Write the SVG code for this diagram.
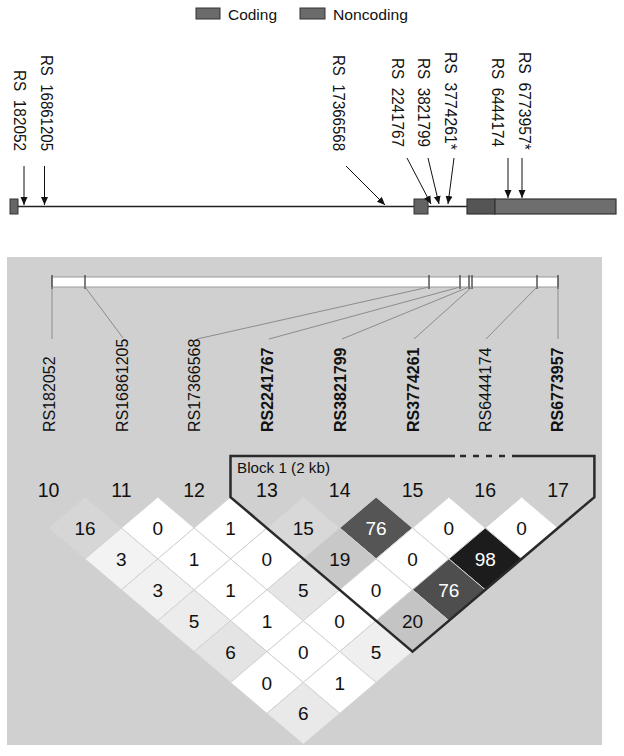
<svg xmlns="http://www.w3.org/2000/svg" xmlns:xlink="http://www.w3.org/1999/xlink" width="624" height="756" viewBox="0 0 624 756">
<style>
text{font-family:"Liberation Sans",Arial,sans-serif;fill:#111}
.lg{font-size:15.5px}
.rs{font-size:16.5px}
.ld{font-size:16px}
.b{font-weight:bold}
.num{font-size:19.5px;text-anchor:middle}
.v{font-size:19px;text-anchor:middle}
.w{fill:#fff}
.arr{stroke:#111;stroke-width:1;fill:none}
.con{stroke:#8c8c8c;stroke-width:1;fill:none}
.tick{stroke:#555;stroke-width:1.5}
.dm{stroke:#d2d2d2;stroke-width:1}
.blk{stroke:#2a2a2a;stroke-width:2.5;fill:none;stroke-linejoin:miter}
</style>
<defs>
<marker id="ah" markerUnits="userSpaceOnUse" markerWidth="9" markerHeight="8" refX="8" refY="3.5" orient="auto">
<path d="M0,0 L8,3.5 L0,7 Z" fill="#111"/>
</marker>
<path id="dm" d="M0,-30.9 L36.4,0 L0,30.9 L-36.4,0 Z"/>
</defs>

<g id="legend">
<rect x="196" y="8" width="24" height="11" fill="#6b6b6b" stroke="#333" stroke-width="1"/>
<text class="lg" x="228" y="19.5" textLength="49" lengthAdjust="spacingAndGlyphs">Coding</text>
<rect x="300" y="8" width="25" height="11" fill="#6b6b6b" stroke="#333" stroke-width="1"/>
<text class="lg" x="333" y="19.5" textLength="75" lengthAdjust="spacingAndGlyphs">Noncoding</text>
</g>

<g id="gene">
<line x1="18" y1="206.5" x2="467" y2="206.5" stroke="#222" stroke-width="1.5"/>
<rect id="exon1" x="10" y="199" width="8" height="15" fill="#666" stroke="#333" stroke-width="1"/>
<rect id="exon2" x="414" y="199" width="14" height="15" fill="#636363" stroke="#333" stroke-width="1"/>
<rect id="exon3-coding" x="467" y="199" width="28" height="15" fill="#555" stroke="#333" stroke-width="1.2"/>
<rect id="exon3-noncoding" x="495" y="199" width="121" height="15" fill="#6e6e6e" stroke="#333" stroke-width="1.2"/>
</g>

<g id="snp-arrows">
<line class="arr" x1="24" y1="166" x2="24" y2="205" marker-end="url(#ah)"/>
<line class="arr" x1="44.5" y1="166" x2="44.5" y2="205" marker-end="url(#ah)"/>
<line class="arr" x1="346" y1="166" x2="385" y2="205" marker-end="url(#ah)"/>
<line class="arr" x1="407" y1="158" x2="431" y2="204" marker-end="url(#ah)"/>
<line class="arr" x1="428" y1="158" x2="439" y2="204" marker-end="url(#ah)"/>
<line class="arr" x1="454" y1="158" x2="448" y2="204" marker-end="url(#ah)"/>
<line class="arr" x1="508" y1="158" x2="508" y2="198" marker-end="url(#ah)"/>
<line class="arr" x1="522" y1="158" x2="522" y2="198" marker-end="url(#ah)"/>
</g>

<g id="snp-labels-top">
<text class="rs" xml:space="preserve" transform="translate(14,70) rotate(90)" textLength="81" lengthAdjust="spacingAndGlyphs">RS  182052</text>
<text class="rs" xml:space="preserve" transform="translate(41,55) rotate(90)" textLength="96" lengthAdjust="spacingAndGlyphs">RS  16861205</text>
<text class="rs" xml:space="preserve" transform="translate(333,55) rotate(90)" textLength="96" lengthAdjust="spacingAndGlyphs">RS  17366568</text>
<text class="rs" xml:space="preserve" transform="translate(392,58) rotate(90)" textLength="89" lengthAdjust="spacingAndGlyphs">RS  2241767</text>
<text class="rs" xml:space="preserve" transform="translate(418,58) rotate(90)" textLength="89" lengthAdjust="spacingAndGlyphs">RS  3821799</text>
<text class="rs" xml:space="preserve" transform="translate(445,52) rotate(90)" textLength="98" lengthAdjust="spacingAndGlyphs">RS  3774261*</text>
<text class="rs" xml:space="preserve" transform="translate(492,58) rotate(90)" textLength="89" lengthAdjust="spacingAndGlyphs">RS  6444174</text>
<text class="rs" xml:space="preserve" transform="translate(519,52) rotate(90)" textLength="98" lengthAdjust="spacingAndGlyphs">RS  6773957*</text>
</g>

<rect id="ld-panel" x="7" y="257" width="595" height="488" fill="#d0d0d0"/>

<g id="snp-bar">
<rect x="52" y="277" width="506" height="10" fill="#fff" stroke="#9a9a9a" stroke-width="1"/>
<line class="tick" x1="52" y1="275" x2="52" y2="289"/>
<line class="tick" x1="85" y1="275" x2="85" y2="289"/>
<line class="tick" x1="429" y1="275" x2="429" y2="289"/>
<line class="tick" x1="460" y1="275" x2="460" y2="289"/>
<line class="tick" x1="469" y1="275" x2="469" y2="289"/>
<line class="tick" x1="472" y1="275" x2="472" y2="289"/>
<line class="tick" x1="537" y1="275" x2="537" y2="289"/>
<line class="tick" x1="558" y1="275" x2="558" y2="289"/>
</g>

<g id="bar-connectors">
<line class="con" x1="52" y1="287" x2="52" y2="339"/>
<line class="con" x1="85" y1="287" x2="123" y2="338"/>
<line class="con" x1="429" y1="287" x2="197" y2="339"/>
<line class="con" x1="460" y1="287" x2="269" y2="339"/>
<line class="con" x1="469" y1="287" x2="342" y2="339"/>
<line class="con" x1="472" y1="287" x2="414" y2="339"/>
<line class="con" x1="537" y1="287" x2="486" y2="339"/>
<line class="con" x1="558" y1="287" x2="558" y2="339"/>
</g>

<g id="snp-labels-ld">
<text class="ld" transform="translate(55,432) rotate(-90)">RS182052</text>
<text class="ld" transform="translate(127.5,432) rotate(-90)">RS16861205</text>
<text class="ld" transform="translate(200,432) rotate(-90)">RS17366568</text>
<text class="ld b" transform="translate(273,432) rotate(-90)">RS2241767</text>
<text class="ld b" transform="translate(345.5,432) rotate(-90)">RS3821799</text>
<text class="ld b" transform="translate(418.5,432) rotate(-90)">RS3774261</text>
<text class="ld" transform="translate(490.5,432) rotate(-90)">RS6444174</text>
<text class="ld b" transform="translate(563,432) rotate(-90)">RS6773957</text>
</g>

<g id="column-numbers">
<text class="num" x="48.6" y="497">10</text>
<text class="num" x="121.4" y="497">11</text>
<text class="num" x="194.1" y="497">12</text>
<text class="num" x="266.9" y="497">13</text>
<text class="num" x="339.7" y="497">14</text>
<text class="num" x="412.5" y="497">15</text>
<text class="num" x="485.2" y="497">16</text>
<text class="num" x="558" y="497">17</text>
</g>

<g id="ld-diamonds">
<use class="dm" href="#dm" x="85" y="528" fill="#d6d6d6"/>
<use class="dm" href="#dm" x="157.75" y="528" fill="#fff"/>
<use class="dm" href="#dm" x="230.5" y="528" fill="#fff"/>
<use class="dm" href="#dm" x="303.3" y="528" fill="#d8d8d8"/>
<use class="dm" href="#dm" x="376.1" y="528" fill="#555"/>
<use class="dm" href="#dm" x="448.85" y="528" fill="#fff"/>
<use class="dm" href="#dm" x="521.6" y="528" fill="#fff"/>

<use class="dm" href="#dm" x="121.35" y="558.9" fill="#f3f3f3"/>
<use class="dm" href="#dm" x="194.15" y="558.9" fill="#fff"/>
<use class="dm" href="#dm" x="266.9" y="558.9" fill="#fff"/>
<use class="dm" href="#dm" x="339.7" y="558.9" fill="#c8c8c8"/>
<use class="dm" href="#dm" x="412.45" y="558.9" fill="#fff"/>
<use class="dm" href="#dm" x="485.25" y="558.9" fill="#1c1c1c"/>

<use class="dm" href="#dm" x="157.75" y="589.8" fill="#f1f1f1"/>
<use class="dm" href="#dm" x="230.55" y="589.8" fill="#fff"/>
<use class="dm" href="#dm" x="303.3" y="589.8" fill="#e6e6e6"/>
<use class="dm" href="#dm" x="376.05" y="589.8" fill="#fff"/>
<use class="dm" href="#dm" x="448.85" y="589.8" fill="#4e4e4e"/>

<use class="dm" href="#dm" x="194.15" y="620.7" fill="#ececec"/>
<use class="dm" href="#dm" x="266.95" y="620.7" fill="#fff"/>
<use class="dm" href="#dm" x="339.65" y="620.7" fill="#fff"/>
<use class="dm" href="#dm" x="412.5" y="620.7" fill="#c4c4c4"/>

<use class="dm" href="#dm" x="230.55" y="651.6" fill="#e4e4e4"/>
<use class="dm" href="#dm" x="303.3" y="651.6" fill="#fff"/>
<use class="dm" href="#dm" x="376.1" y="651.6" fill="#efefef"/>

<use class="dm" href="#dm" x="266.9" y="682.5" fill="#fff"/>
<use class="dm" href="#dm" x="339.7" y="682.5" fill="#fff"/>

<use class="dm" href="#dm" x="303.3" y="713.4" fill="#e9e9e9"/>
</g>

<g id="ld-values">
<text class="v" x="85" y="535">16</text>
<text class="v" x="157.75" y="535">0</text>
<text class="v" x="230.5" y="535">1</text>
<text class="v" x="303.3" y="535">15</text>
<text class="v w" x="376.1" y="535">76</text>
<text class="v" x="448.85" y="535">0</text>
<text class="v" x="521.6" y="535">0</text>

<text class="v" x="121.35" y="565.9">3</text>
<text class="v" x="194.15" y="565.9">1</text>
<text class="v" x="266.9" y="565.9">0</text>
<text class="v" x="339.7" y="565.9">19</text>
<text class="v" x="412.45" y="565.9">0</text>
<text class="v w" x="485.25" y="565.9">98</text>

<text class="v" x="157.75" y="596.8">3</text>
<text class="v" x="230.55" y="596.8">1</text>
<text class="v" x="303.3" y="596.8">5</text>
<text class="v" x="376.05" y="596.8">0</text>
<text class="v w" x="448.85" y="596.8">76</text>

<text class="v" x="194.15" y="627.7">5</text>
<text class="v" x="266.95" y="627.7">1</text>
<text class="v" x="339.65" y="627.7">0</text>
<text class="v" x="412.5" y="627.7">20</text>

<text class="v" x="230.55" y="658.6">6</text>
<text class="v" x="303.3" y="658.6">0</text>
<text class="v" x="376.1" y="658.6">5</text>

<text class="v" x="266.9" y="689.5">0</text>
<text class="v" x="339.7" y="689.5">1</text>

<text class="v" x="303.3" y="720.4">6</text>
</g>

<g id="block1">
<path class="blk" d="M455,456 H230.5 V497.1 L412.5,651.6 L594.4,497.1 V456 H518"/>
<path class="blk" d="M460,456 H518" stroke-dasharray="6 7"/>
<text x="237" y="473" font-size="14" textLength="93" lengthAdjust="spacingAndGlyphs">Block 1 (2 kb)</text>
</g>
</svg>
